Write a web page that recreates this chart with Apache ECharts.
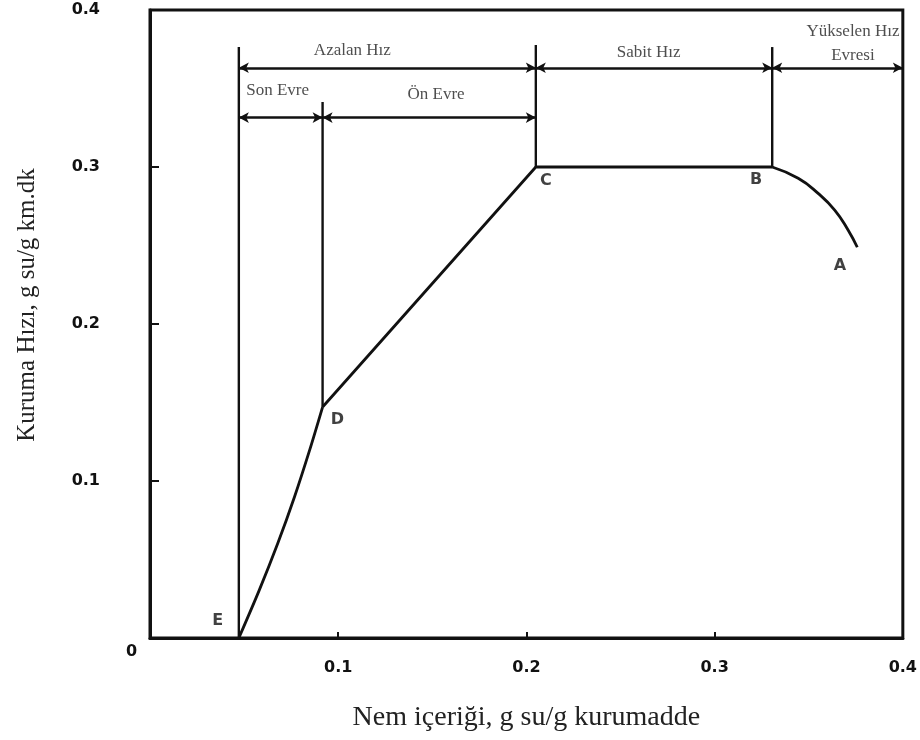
<!DOCTYPE html>
<html>
<head>
<meta charset="utf-8">
<script src="https://cdn.jsdelivr.net/npm/echarts@6/dist/echarts.min.js"></script>
<style>html,body{margin:0;padding:0;background:#fff;}#c{width:920px;height:740px;}</style>
</head>
<body>
<div id="c"></div>
<script>
// ---- data ----
const xTickLabels = ['0', '0.1', '0.2', '0.3', '0.4'];
const yTickLabels = ['0', '0.1', '0.2', '0.3', '0.4'];
const xTitle = 'Nem içeriği, g su/g kurumadde';
const yTitle = 'Kuruma Hızı, g su/g km.dk';

// E -> D (falling-rate, last stage)
const curveED = [[0.0472, 0], [0.0579, 0.03], [0.0678, 0.06], [0.0768, 0.09], [0.0849, 0.12], [0.0917, 0.1471]];
// D -> C -> B
const lineDCB = [[0.0917, 0.1471], [0.205, 0.3], [0.3306, 0.3]];
// B -> A (rising-rate stage)
const curveBA = [[0.3306, 0.3], [0.3444, 0.2928], [0.355, 0.2832], [0.3638, 0.2726], [0.3709, 0.2599], [0.3758, 0.2489]];

// vertical boundary lines
const vLineE = [[0.0472, 0], [0.0472, 0.3764]];
const vLineD = [[0.0917, 0.1471], [0.0917, 0.3414]];
const vLineC = [[0.205, 0.3], [0.205, 0.3777]];
const vLineB = [[0.3306, 0.3], [0.3306, 0.3764]];

// double arrows: [x1, x2, y]
const arrowsTop = [[0.0472, 0.205, 0.3632], [0.205, 0.3306, 0.3632], [0.3306, 0.4, 0.3632]];
const arrowsSub = [[0.0472, 0.0917, 0.3315], [0.0917, 0.205, 0.3315]];

// stage names: [text, x, y]
const stageLabels = [
  ['Azalan Hız', 0.1075, 0.3739],
  ['Son Evre', 0.0678, 0.3484],
  ['Ön Evre', 0.152, 0.3459],
  ['Sabit Hız', 0.2649, 0.3732],
  ['Yükselen Hız', 0.3735, 0.386],
  ['Evresi', 0.3735, 0.3713]
];
// point letters: [text, x, y]
const pointLabels = [
  ['A', 0.3666, 0.2369],
  ['B', 0.3221, 0.2917],
  ['C', 0.2103, 0.2911],
  ['D', 0.0996, 0.1389],
  ['E', 0.036, 0.0108]
];

// ---- chart ----
const chart = echarts.init(document.getElementById('c'), null, {renderer: 'canvas'});
const INK = '#111';
const tickFont = {fontFamily: 'DejaVu Sans', fontWeight: 'bold', fontSize: 16, color: INK};
const serif = 'Liberation Serif';

function lineSeries(data, smooth, width) {
  return {
    type: 'line', data: data, smooth: smooth, showSymbol: false, symbol: 'none',
    lineStyle: {color: INK, width: width}, silent: true, clip: false, z: 3
  };
}
function arrowLines(list) {
  return list.map(a => [{coord: [a[0], a[2]]}, {coord: [a[1], a[2]]}]);
}

const option = {
  animation: false,
  backgroundColor: '#fff',
  grid: {left: 150, right: 15, top: 10, bottom: 102, show: true, borderColor: INK, borderWidth: 3, backgroundColor: 'transparent'},
  xAxis: {
    type: 'value', min: 0, max: 0.4, interval: 0.1,
    name: xTitle, nameLocation: 'middle', nameGap: 66,
    nameTextStyle: {fontFamily: serif, fontSize: 28, color: '#222'},
    axisLine: {show: true, lineStyle: {color: INK, width: 3}},
    axisTick: {show: true, inside: true, length: 6, lineStyle: {color: INK, width: 2}},
    splitLine: {show: false},
    axisLabel: {
      margin: 22, ...tickFont,
      formatter: function (v) { const i = Math.round(v * 10); return i === 0 ? '' : xTickLabels[i]; }
    }
  },
  yAxis: {
    type: 'value', min: 0, max: 0.4, interval: 0.1,
    name: yTitle, nameLocation: 'middle', nameGap: 110,
    nameTextStyle: {fontFamily: serif, fontSize: 25, color: '#222', padding: [0, 0, 0, 38]},
    axisLine: {show: true, lineStyle: {color: INK, width: 3}},
    axisTick: {show: true, inside: true, length: 9, lineStyle: {color: INK, width: 2}},
    splitLine: {show: false},
    axisLabel: {
      margin: 50, ...tickFont, padding: [0, 0, 8, 0],
      formatter: function (v) { const i = Math.round(v * 10); return i === 0 ? '' : yTickLabels[i]; }
    }
  },
  series: [
    lineSeries(curveED, 0.3, 2.8),
    lineSeries(lineDCB, false, 2.8),
    lineSeries(curveBA, 0.5, 2.8),
    lineSeries(vLineE, false, 2.4),
    lineSeries(vLineD, false, 2.4),
    lineSeries(vLineC, false, 2.4),
    lineSeries(vLineB, false, 2.4),
    {
      type: 'line', data: [], silent: true,
      markLine: {
        silent: true, symbol: ['arrow', 'arrow'], symbolSize: [8, 10],
        label: {show: false},
        lineStyle: {color: INK, width: 2.6, type: 'solid'},
        data: arrowLines(arrowsTop).concat(arrowLines(arrowsSub))
      }
    },
    {
      type: 'scatter', symbolSize: 0, silent: true, clip: false,
      data: stageLabels.map(s => ({name: s[0], value: [s[1], s[2]]})),
      label: {show: true, position: 'inside', formatter: '{b}', fontFamily: serif, fontSize: 17, color: '#222'}
    },
    {
      type: 'scatter', symbolSize: 0, silent: true, clip: false,
      data: pointLabels.map(s => ({name: s[0], value: [s[1], s[2]]})),
      label: {show: true, position: 'inside', formatter: '{b}', fontFamily: 'DejaVu Sans', fontWeight: 'bold', fontSize: 16, color: INK}
    }
  ]
};
chart.setOption(option);

// origin "0" label sits below-left of the corner
const origin = chart.convertToPixel({gridIndex: 0}, [0, 0]);
chart.setOption({
  graphic: [{
    type: 'text', left: origin[0] - 18 - 6, top: origin[1] + 6, silent: true,
    style: {text: xTickLabels[0], fontFamily: 'DejaVu Sans', fontWeight: 'bold', fontSize: 16, fill: INK}
  }]
});
</script>
</body>
</html>
